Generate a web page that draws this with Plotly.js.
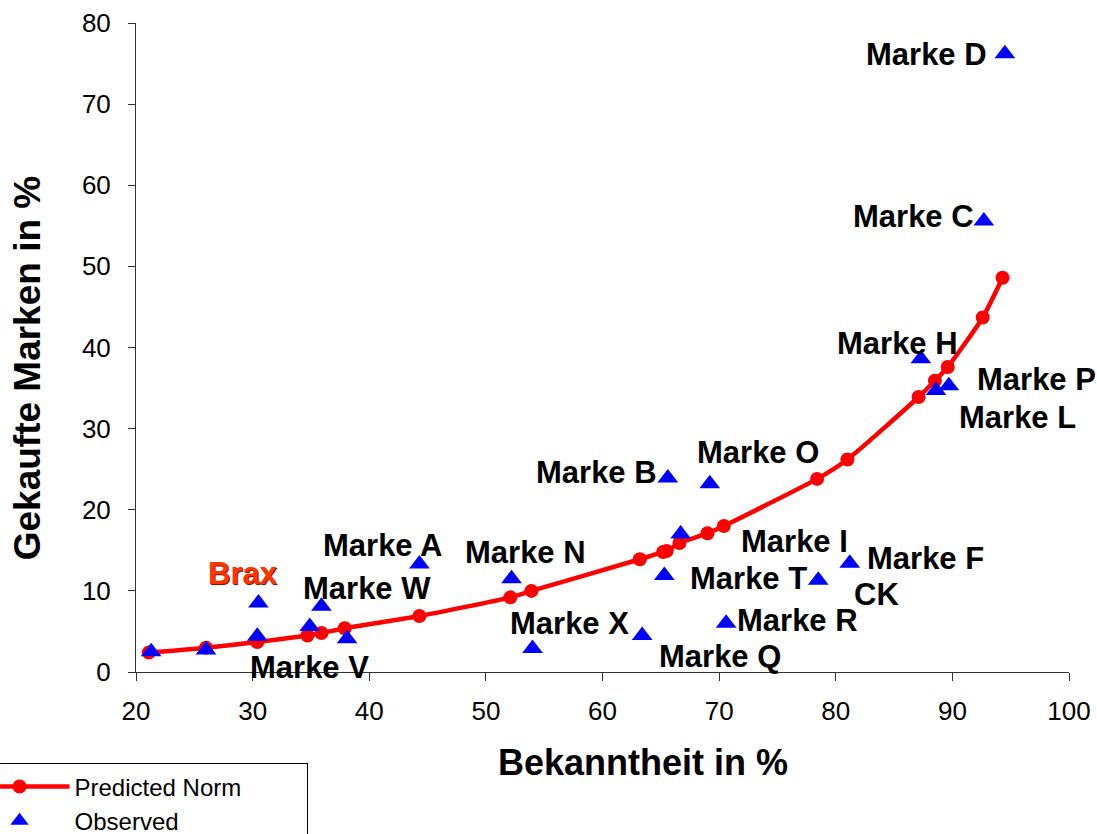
<!DOCTYPE html>
<html>
<head>
<meta charset="utf-8">
<script src="https://cdn.plot.ly/plotly-3.0.1.min.js"></script>
<style>
  html, body { margin: 0; padding: 0; background: #ffffff; }
  #chart { width: 1097px; height: 834px; }
</style>
</head>
<body>
<div id="chart"></div>
<script>
// Predicted norm (red line with circles)
const predictedX = [21.1, 26.0, 30.4, 34.7, 35.9, 37.9, 44.3, 52.1, 53.9, 63.2, 65.2, 65.5, 66.6, 69.0, 70.4, 78.4, 81.0, 87.1, 88.5, 89.6, 92.6, 94.3];
const predictedY = [2.4, 3.0, 3.7, 4.5, 4.8, 5.4, 6.9, 9.2, 10.0, 13.9, 14.8, 14.9, 15.9, 17.1, 18.0, 23.8, 26.2, 33.9, 35.9, 37.6, 43.7, 48.6];

// Observed (blue triangles)
const observedX = [21.3, 26.0, 30.5, 30.4, 34.9, 35.9, 38.1, 44.3, 52.2, 54.0, 63.4, 65.3, 65.6, 66.7, 69.2, 70.6, 78.5, 81.2, 87.3, 88.6, 89.7, 92.7, 94.5];
const observedY = [2.5, 2.7, 8.5, 4.4, 5.6, 8.1, 4.1, 13.3, 11.5, 2.9, 4.5, 11.9, 23.9, 17.0, 23.2, 6.0, 11.3, 13.4, 38.6, 34.7, 35.3, 55.6, 76.2];

// Brand labels
const labelText = ["Marke D", "Marke C", "Marke H", "Marke P", "Marke L", "Marke O", "Marke B",
                   "Marke I", "Marke F", "CK", "Marke T", "Marke R", "Marke Q", "Marke X",
                   "Marke N", "Marke A", "Marke W", "Brax", "Marke V", "Marke G"];
const labelX = [87.75, 86.7, 85.3, 97.2, 95.6, 73.3, 59.5, 76.5, 87.7, 83.5, 72.5, 76.7, 70.1, 57.2, 53.4, 41.1, 39.8, 29.2, 34.9, 18.2];
const labelY = [76.1, 56.2, 40.5, 36.0, 31.4, 27.0, 24.6, 16.1, 14.0, 9.5, 11.5, 6.4, 1.85, 6.0, 14.7, 15.6, 10.3, 12.2, 0.5, 4.8];

const seriesNames = ["Predicted Norm", "Observed"];
const xTitle = "Bekanntheit in %";
const yTitle = "Gekaufte Marken in %";

const FONT = "Arial, 'Liberation Sans', sans-serif";
const PAD = "\u00a0".repeat(9);

const traces = [
  {
    x: predictedX, y: predictedY,
    name: seriesNames[0] + PAD,
    type: "scatter", mode: "lines+markers",
    line: { color: "#ff0000", width: 4.5, shape: "spline", smoothing: 0.6 },
    marker: { color: "#ff0000", size: 14, symbol: "circle" },
    cliponaxis: false
  },
  {
    x: observedX, y: observedY,
    name: seriesNames[1],
    type: "scatter", mode: "markers",
    marker: { color: "#0000ff", size: 18, symbol: "triangle-up" },
    cliponaxis: false
  }
];

const annotations = labelText.map((t, i) => ({
  x: labelX[i], y: labelY[i], xref: "x", yref: "y",
  text: "<b>" + t + "</b>",
  showarrow: false, xanchor: "center", yanchor: "middle",
  font: t === "Brax"
    ? { family: FONT, size: 31, color: "#ff3300", shadow: "1px 1px 0px #7a1a00" }
    : { family: FONT, size: 31, color: "#000000" }
}));

annotations.push({
  x: 0.5434, y: -0.140, xref: "paper", yref: "paper",
  text: "<b>" + xTitle + "</b>", showarrow: false,
  xanchor: "center", yanchor: "middle",
  font: { family: FONT, size: 36, color: "#000000" }
});
annotations.push({
  x: -0.1168, y: 0.468, xref: "paper", yref: "paper",
  text: "<b>" + yTitle + "</b>", showarrow: false, textangle: -90,
  xanchor: "center", yanchor: "middle",
  font: { family: FONT, size: 37, color: "#000000" }
});

const layout = {
  width: 1097, height: 834,
  margin: { l: 136, r: 28, t: 23, b: 162, autoexpand: false },
  paper_bgcolor: "#ffffff", plot_bgcolor: "#ffffff",
  font: { family: FONT, color: "#000000" },
  showlegend: true,
  legend: {
    x: -0.1854, xanchor: "left", y: -0.1401, yanchor: "top",
    bgcolor: "#ffffff", bordercolor: "#000000", borderwidth: 1.5,
    font: { family: FONT, size: 24, color: "#000000" },
    itemwidth: 100
  },
  xaxis: {
    range: [20, 100], tickvals: [20, 30, 40, 50, 60, 70, 80, 90, 100],
    showgrid: false, zeroline: false,
    showline: true, linecolor: "#333333", linewidth: 1,
    ticks: "outside", ticklen: 8, tickcolor: "#333333", tickwidth: 1,
    tickfont: { family: FONT, size: 26, color: "#000000" },
    ticklabelstandoff: 8
  },
  yaxis: {
    range: [0, 80], tickvals: [0, 10, 20, 30, 40, 50, 60, 70, 80],
    showgrid: false, zeroline: false,
    showline: true, linecolor: "#333333", linewidth: 1,
    ticks: "outside", ticklen: 7, tickcolor: "#333333", tickwidth: 1,
    tickfont: { family: FONT, size: 26, color: "#000000" },
    ticklabelstandoff: 12
  },
  annotations: annotations
};

Plotly.newPlot("chart", traces, layout, { displayModeBar: false, staticPlot: true });
</script>
</body>
</html>
